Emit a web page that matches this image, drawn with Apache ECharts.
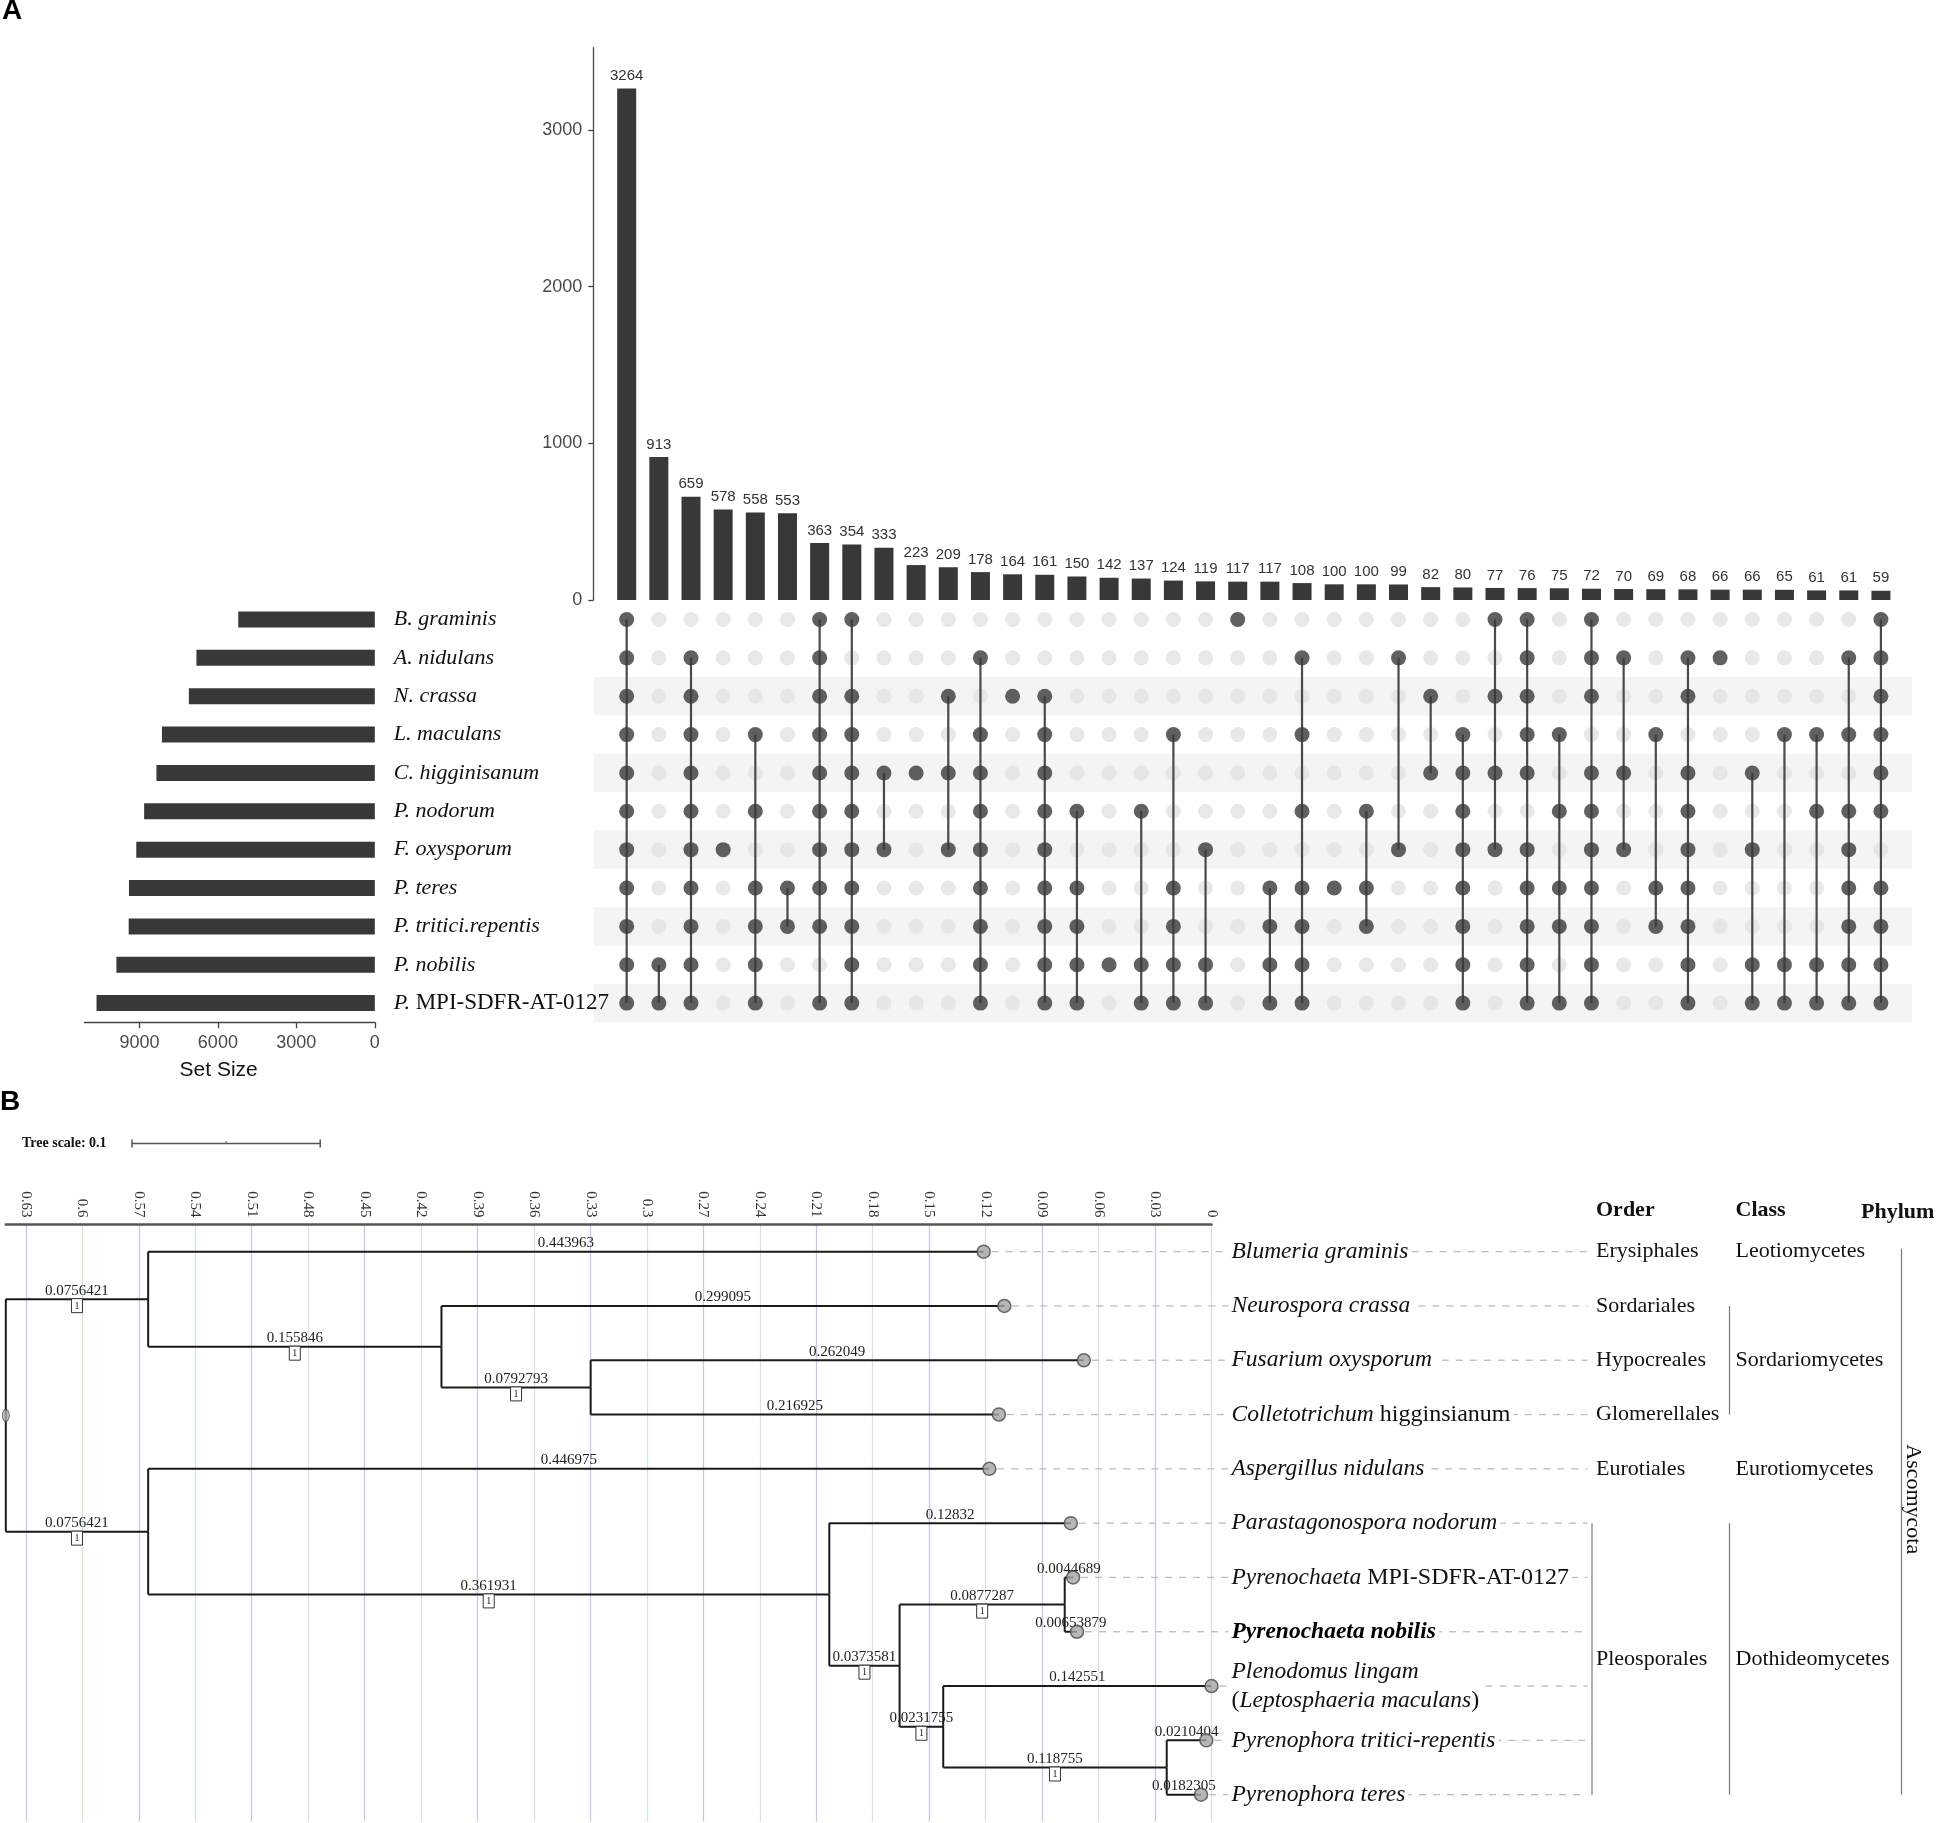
<!DOCTYPE html>
<html>
<head>
<meta charset="utf-8">
<script src="https://cdn.jsdelivr.net/npm/echarts@6/dist/echarts.min.js"></script>
<style>
html,body{margin:0;padding:0;background:#fff;}
#chart{width:1936px;height:1823px;}
</style>
</head>
<body>
<div id="chart"></div>
<script>
// ================= Panel A data =================
const setNames = ['B. graminis','A. nidulans','N. crassa','L. maculans','C. higginisanum','P. nodorum','F. oxysporum','P. teres','P. tritici.repentis','P. nobilis','P. MPI-SDFR-AT-0127'];
const setSizes = [5220,6820,7110,8140,8350,8820,9120,9400,9410,9880,10640];
const setSizeTicks = [0,3000,6000,9000];

const intersectionSizes = [3264,913,659,578,558,553,363,354,333,223,209,178,164,161,150,142,137,124,119,117,117,108,100,100,99,82,80,77,76,75,72,70,69,68,66,66,65,61,61,59];
const intersectionTicks = [0,1000,2000,3000];
// set indexes (rows of setNames) that form each intersection column
const intersectionMembers = [
  [0,1,2,3,4,5,6,7,8,9,10],
  [9,10],
  [1,2,3,4,5,6,7,8,9,10],
  [6],
  [3,5,7,8,9,10],
  [7,8],
  [0,1,2,3,4,5,6,7,8,10],
  [0,2,3,4,5,6,7,8,9,10],
  [4,6],
  [4],
  [2,4,6],
  [1,3,4,5,6,7,8,9,10],
  [2],
  [2,3,4,5,6,7,8,9,10],
  [5,7,8,9,10],
  [9],
  [5,9,10],
  [3,7,8,9,10],
  [6,9,10],
  [0],
  [7,8,9,10],
  [1,3,5,7,8,9,10],
  [7],
  [5,7,8],
  [1,6],
  [2,4],
  [3,4,5,6,7,8,9,10],
  [0,2,4,6],
  [0,1,2,3,4,6,7,8,9,10],
  [3,5,7,8,10],
  [0,1,2,4,5,6,7,8,9,10],
  [1,4,6],
  [3,7,8],
  [1,2,4,5,6,7,8,9,10],
  [1],
  [4,6,9,10],
  [3,9,10],
  [3,5,9,10],
  [1,3,5,6,7,8,9,10],
  [0,1,2,3,4,5,7,8,9,10]
];
const shadedRows = [2,4,6,8,10];

// ================= Panel B data =================
const treeNode = ['root','n1','Blumeria graminis','n2','Neurospora crassa','n3','Fusarium oxysporum','Colletotrichum higginsianum','n4','Aspergillus nidulans','n5','Parastagonospora nodorum','n6','n7','Pyrenochaeta MPI-SDFR-AT-0127','Pyrenochaeta nobilis','n8','Plenodomus lingam (Leptosphaeria maculans)','n9','Pyrenophora tritici-repentis','Pyrenophora teres'];
const treeParent = [-1,0,1,1,3,3,5,5,0,8,8,10,10,12,13,13,12,16,16,18,18];
const branchLength = [0,0.0756421,0.443963,0.155846,0.299095,0.0792793,0.262049,0.216925,0.0756421,0.446975,0.361931,0.12832,0.0373581,0.0877287,0.0044689,0.00653879,0.0231755,0.142551,0.118755,0.0210404,0.0182305];
const bootstrap = [null,1,null,1,null,1,null,null,1,null,1,null,1,1,null,null,1,null,1,null,null];
const treeTickInterval = 0.03;
const treeScaleLength = 0.1;

const orderLabels = ['Erysiphales','Sordariales','Hypocreales','Glomerellales','Eurotiales','Pleosporales'];
const orderSpans  = [[0,0],[1,1],[2,2],[3,3],[4,4],[5,10]];
const classLabels = ['Leotiomycetes','Sordariomycetes','Eurotiomycetes','Dothideomycetes'];
const classSpans  = [[0,0],[1,3],[4,4],[5,10]];
const phylumLabels = ['Ascomycota'];
const phylumSpans  = [[0,10]];

const tipMarkup = {
  'Blumeria graminis': '{i|Blumeria graminis}',
  'Neurospora crassa': '{i|Neurospora crassa}',
  'Fusarium oxysporum': '{i|Fusarium oxysporum}',
  'Colletotrichum higginsianum': '{i|Colletotrichum}{n| higginsianum}',
  'Aspergillus nidulans': '{i|Aspergillus nidulans}',
  'Parastagonospora nodorum': '{i|Parastagonospora nodorum}',
  'Pyrenochaeta MPI-SDFR-AT-0127': '{i|Pyrenochaeta}{n| MPI-SDFR-AT-0127}',
  'Pyrenochaeta nobilis': '{b|Pyrenochaeta nobilis}',
  'Plenodomus lingam (Leptosphaeria maculans)': '{i|Plenodomus lingam}\n{n|(}{i|Leptosphaeria maculans}{n|)}',
  'Pyrenophora tritici-repentis': '{i|Pyrenophora tritici-repentis}',
  'Pyrenophora teres': '{i|Pyrenophora teres}'
};

// ================= derived =================
const colCats = intersectionSizes.map((_, i) => String(i));
const lightDots = [], darkDots = [], connectors = [];
intersectionMembers.forEach((m, c) => {
  for (let r = 0; r < setNames.length; r++) {
    if (m.indexOf(r) >= 0) darkDots.push([c, r]); else lightDots.push([c, r]);
  }
  if (m.length > 1) connectors.push([c, Math.min(...m), Math.max(...m)]);
});

const nNodes = treeNode.length;
const childrenOf = treeNode.map(() => []);
treeParent.forEach((p, i) => { if (p >= 0) childrenOf[p].push(i); });
const depth = new Array(nNodes).fill(0);
for (let i = 1; i < nNodes; i++) depth[i] = depth[treeParent[i]] + branchLength[i];
const rowOf = new Array(nNodes).fill(0);
const tipIdx = [];
for (let i = 0; i < nNodes; i++) if (!childrenOf[i].length) { rowOf[i] = tipIdx.length; tipIdx.push(i); }
for (let i = nNodes - 1; i >= 0; i--) if (childrenOf[i].length) {
  const c = childrenOf[i]; rowOf[i] = (rowOf[c[0]] + rowOf[c[c.length - 1]]) / 2;
}
const maxDepth = Math.max(...tipIdx.map(i => depth[i]));
const hgt = depth.map(d => maxDepth - d);
const edgeData = [];
for (let i = 1; i < nNodes; i++) edgeData.push([hgt[treeParent[i]], hgt[i], rowOf[i], rowOf[treeParent[i]], i]);
const tipData = tipIdx.map(i => [hgt[i], rowOf[i], i]);

const annItems = [];
orderLabels.forEach((t, k) => annItems.push({col: 'order', text: t, span: orderSpans[k]}));
classLabels.forEach((t, k) => annItems.push({col: 'class', text: t, span: classSpans[k]}));
phylumLabels.forEach((t, k) => annItems.push({col: 'phylum', text: t, span: phylumSpans[k]}));

// ================= styling =================
const SANS = 'Liberation Sans, Arial, sans-serif';
const SERIF = 'Liberation Serif, Times New Roman, serif';
const DARK = '#383838';
const plain = v => String(v);

const chart = echarts.init(document.getElementById('chart'), null, {renderer: 'canvas', width: 1936, height: 1823});

const option = {
  animation: false,
  backgroundColor: '#fff',
  grid: [
    {left: 610.6, top: 47.7, width: 1286.4, height: 552.3, outerBoundsMode: 'none'},
    {left: 610.6, top: 600.3, width: 1286.4, height: 422, outerBoundsMode: 'none'},
    {left: 84.5, top: 600.3, width: 290.3, height: 422, outerBoundsMode: 'none'},
    {left: 5.8, top: 1224.5, width: 1205.7, height: 597.3, outerBoundsMode: 'none'}
  ],
  xAxis: [
    {gridIndex: 0, type: 'category', data: colCats, show: false},
    {gridIndex: 1, type: 'category', data: colCats, show: false},
    {gridIndex: 2, type: 'value', inverse: true, min: 0, max: 11100,
      axisLine: {show: true, onZero: false, lineStyle: {color: '#444', width: 1.3}},
      axisTick: {show: true, length: 6, customValues: setSizeTicks, lineStyle: {color: '#444', width: 1.3}},
      axisLabel: {customValues: setSizeTicks, formatter: plain, fontFamily: SANS, fontSize: 18, color: '#4a4a4a', margin: 12},
      splitLine: {show: false},
      name: 'Set Size', nameLocation: 'middle', nameGap: 37,
      nameTextStyle: {fontFamily: SANS, fontSize: 21, color: '#111', padding: [0, 22, 0, 0]}},
    {gridIndex: 3, type: 'value', inverse: true, position: 'top', min: 0, max: maxDepth, interval: treeTickInterval,
      axisLine: {show: true, onZero: false, lineStyle: {color: '#555', width: 2.5}},
      axisTick: {show: false},
      axisLabel: {rotate: 90, showMaxLabel: false, formatter: plain, fontFamily: SERIF, fontSize: 15, color: '#333', margin: 7},
      splitLine: {show: true, showMaxLine: false, lineStyle: {color: ['#cfe9cf', '#c6c6ea'], width: 1.2}}}
  ],
  yAxis: [
    {gridIndex: 0, type: 'value', min: 0, max: 3525, offset: 17.3,
      axisLine: {show: true, onZero: false, lineStyle: {color: '#444', width: 1.3}},
      axisTick: {show: true, length: 5, customValues: intersectionTicks, lineStyle: {color: '#444', width: 1.3}},
      axisLabel: {customValues: intersectionTicks, formatter: plain, fontFamily: SANS, fontSize: 18, color: '#4a4a4a', margin: 11},
      splitLine: {show: false}},
    {gridIndex: 1, type: 'category', data: setNames, inverse: true, show: false},
    {gridIndex: 2, type: 'category', data: setNames, inverse: true, position: 'right',
      axisLine: {show: false}, axisTick: {show: false},
      axisLabel: {
        margin: 19, align: 'left', fontFamily: SERIF, fontSize: 22, color: '#111',
        formatter: function (v) {
          const sp = v.indexOf(' ');
          const genus = v.slice(0, sp), rest = v.slice(sp + 1);
          if (/^[A-Z0-9-]+$/.test(rest)) return '{i|' + genus + '}{n| ' + rest + '}';
          return '{i|' + v + '}';
        },
        rich: {
          i: {fontFamily: SERIF, fontSize: 22, fontStyle: 'italic', color: '#111'},
          n: {fontFamily: SERIF, fontSize: 23, color: '#111'}
        }
      }},
    {gridIndex: 3, type: 'value', inverse: true, min: -0.5, max: 10.5, show: false}
  ],
  series: [
    {type: 'bar', xAxisIndex: 0, yAxisIndex: 0, data: intersectionSizes, barWidth: 19,
      itemStyle: {color: DARK},
      label: {show: true, position: 'top', distance: 5, fontFamily: SANS, fontSize: 15, color: '#333'}},
    {type: 'custom', xAxisIndex: 1, yAxisIndex: 1, silent: true, z: 0,
      data: shadedRows.map(r => [0, r]),
      renderItem: function (params, api) {
        const cs = params.coordSys;
        const y = api.coord([0, api.value(1)])[1];
        const h = api.size([0, 1])[1];
        return {type: 'rect', shape: {x: cs.x - 16.6, y: y - h / 2, width: cs.width + 31.6, height: h},
          style: {fill: '#f4f4f4'}};
      }},
    {type: 'scatter', xAxisIndex: 1, yAxisIndex: 1, data: lightDots, symbolSize: 15, z: 2,
      itemStyle: {color: '#e2e2e2'}, silent: true},
    {type: 'custom', xAxisIndex: 1, yAxisIndex: 1, z: 3, silent: true, data: connectors,
      renderItem: function (params, api) {
        const p1 = api.coord([api.value(0), api.value(1)]);
        const p2 = api.coord([api.value(0), api.value(2)]);
        return {type: 'line', shape: {x1: p1[0], y1: p1[1], x2: p2[0], y2: p2[1]},
          style: {stroke: '#4a4a4a', lineWidth: 2.2}};
      }},
    {type: 'scatter', xAxisIndex: 1, yAxisIndex: 1, data: darkDots, symbolSize: 15, z: 4,
      itemStyle: {color: DARK}, silent: true},
    {type: 'bar', xAxisIndex: 2, yAxisIndex: 2, data: setSizes, barWidth: 16,
      itemStyle: {color: DARK}},
    // tree branches
    {type: 'custom', xAxisIndex: 3, yAxisIndex: 3, z: 3, silent: true, clip: false, data: edgeData,
      renderItem: function (params, api) {
        const xp = api.value(0), xc = api.value(1), yc = api.value(2), yp = api.value(3), i = api.value(4);
        const P = api.coord([xp, yp]), PC = api.coord([xp, yc]), C = api.coord([xc, yc]);
        const mid = (PC[0] + C[0]) / 2;
        const ch = [
          {type: 'line', shape: {x1: P[0], y1: P[1], x2: PC[0], y2: PC[1]}, style: {stroke: '#1a1a1a', lineWidth: 2}},
          {type: 'line', shape: {x1: PC[0], y1: PC[1], x2: C[0], y2: C[1]}, style: {stroke: '#1a1a1a', lineWidth: 2}},
          {type: 'text', z2: 5, style: {text: String(branchLength[i]), x: mid, y: C[1] - 1, align: 'center', verticalAlign: 'bottom',
            fontFamily: SERIF, fontSize: 15, fill: '#222'}}
        ];
        if (bootstrap[i] != null) {
          ch.push({type: 'rect', z2: 6, shape: {x: mid - 5.5, y: C[1] - 0.5, width: 11, height: 14},
            style: {fill: '#fff', stroke: '#333', lineWidth: 1}});
          ch.push({type: 'text', z2: 7, style: {text: String(bootstrap[i]), x: mid, y: C[1] + 6.8, align: 'center', verticalAlign: 'middle',
            fontFamily: SERIF, fontSize: 10, fill: '#222'}});
        }
        return {type: 'group', children: ch};
      }},
    // root marker
    {type: 'scatter', xAxisIndex: 3, yAxisIndex: 3, z: 4, silent: true, clip: false,
      data: [[hgt[0], rowOf[0]]], symbol: 'circle', symbolSize: [7, 12],
      itemStyle: {color: '#aaa', borderColor: '#444', borderWidth: 1}},
    // tip labels + leaders
    {type: 'custom', xAxisIndex: 3, yAxisIndex: 3, z: 2, silent: true, clip: false, data: tipData,
      renderItem: function (params, api) {
        const cs = params.coordSys;
        const R = cs.x + cs.width;
        const p = api.coord([api.value(0), api.value(1)]);
        const name = treeNode[api.value(2)];
        return {type: 'group', children: [
          {type: 'line', shape: {x1: p[0] + 8, y1: p[1], x2: R + 376, y2: p[1]},
            style: {stroke: '#bdbdbd', lineWidth: 1.3, lineDash: [7, 7]}},
          {type: 'text', z2: 5, style: {
            text: tipMarkup[name], x: R + 17, y: p[1], align: 'left', verticalAlign: 'middle',
            fontFamily: SERIF, fontSize: 23.5, fill: '#111', backgroundColor: '#fff', padding: [0, 3], lineHeight: 29,
            rich: {
              i: {fontFamily: SERIF, fontSize: 23.5, fontStyle: 'italic', fill: '#111', lineHeight: 29},
              n: {fontFamily: SERIF, fontSize: 24, fill: '#111', lineHeight: 29},
              b: {fontFamily: SERIF, fontSize: 23.5, fontStyle: 'italic', fontWeight: 'bold', fill: '#000', lineHeight: 29}
            }}}
        ]};
      }},
    // tip circles
    {type: 'scatter', xAxisIndex: 3, yAxisIndex: 3, z: 5, silent: true, clip: false,
      data: tipData.map(d => [d[0], d[1]]), symbolSize: 13,
      itemStyle: {color: '#a4a4a4', borderColor: '#4a4a4a', borderWidth: 1.5}},
    // taxonomy columns
    {type: 'custom', xAxisIndex: 3, yAxisIndex: 3, z: 4, silent: true, clip: false,
      data: annItems.map((a, k) => [0, (a.span[0] + a.span[1]) / 2, k]),
      renderItem: function (params, api) {
        const cs = params.coordSys;
        const R = cs.x + cs.width;
        const a = annItems[api.value(2)];
        const ys = api.coord([0, a.span[0]])[1], ye = api.coord([0, a.span[1]])[1];
        const ch = [];
        const font = {fontFamily: SERIF, fontSize: 22, fill: '#111'};
        if (a.col === 'order') {
          if (a.span[1] > a.span[0]) ch.push({type: 'line', shape: {x1: R + 380.5, y1: ys, x2: R + 380.5, y2: ye}, style: {stroke: '#777', lineWidth: 1.2}});
          ch.push({type: 'text', style: Object.assign({text: a.text, x: R + 384.5, y: (ys + ye) / 2, align: 'left', verticalAlign: 'middle'}, font)});
        } else if (a.col === 'class') {
          if (a.span[1] > a.span[0]) ch.push({type: 'line', shape: {x1: R + 518, y1: ys, x2: R + 518, y2: ye}, style: {stroke: '#777', lineWidth: 1.2}});
          ch.push({type: 'text', style: Object.assign({text: a.text, x: R + 524, y: (ys + ye) / 2, align: 'left', verticalAlign: 'middle'}, font)});
        } else {
          ch.push({type: 'line', shape: {x1: R + 690, y1: ys - 3, x2: R + 690, y2: ye}, style: {stroke: '#777', lineWidth: 1.2}});
          const yc = api.coord([0, (a.span[0] + a.span[1]) / 2 - 0.44])[1];
          ch.push({type: 'text', x: R + 701.5, y: yc, rotation: -Math.PI / 2,
            style: Object.assign({text: a.text, x: 0, y: 0, align: 'center', verticalAlign: 'middle'}, font)});
        }
        return {type: 'group', children: ch};
      }}
  ]
};
chart.setOption(option);

const x0 = chart.convertToPixel({xAxisIndex: 3}, 0);
const x1 = chart.convertToPixel({xAxisIndex: 3}, treeScaleLength);
const scaleLen = Math.abs(x0 - x1);
const gridR = x0;
const sbX = 132, sbY = 1143.5;
chart.setOption({
  graphic: [
    {type: 'text', left: 2, top: -3, style: {text: 'A', font: 'bold 28px ' + SANS, fill: '#000'}},
    {type: 'text', left: 0, top: 1088, style: {text: 'B', font: 'bold 28px ' + SANS, fill: '#000'}},
    {type: 'text', x: 22, y: sbY, style: {text: 'Tree scale: 0.1', font: 'bold 14px ' + SERIF, fill: '#111', verticalAlign: 'middle'}},
    {type: 'line', shape: {x1: sbX, y1: sbY, x2: sbX + scaleLen, y2: sbY}, style: {stroke: '#555', lineWidth: 1.5}},
    {type: 'line', shape: {x1: sbX, y1: sbY - 4, x2: sbX, y2: sbY + 4}, style: {stroke: '#555', lineWidth: 1.5}},
    {type: 'line', shape: {x1: sbX + scaleLen, y1: sbY - 4, x2: sbX + scaleLen, y2: sbY + 4}, style: {stroke: '#555', lineWidth: 1.5}},
    {type: 'line', shape: {x1: sbX + scaleLen / 2, y1: sbY - 2.5, x2: sbX + scaleLen / 2, y2: sbY}, style: {stroke: '#555', lineWidth: 1}},
    {type: 'text', x: gridR + 384.5, y: 1210, style: {text: 'Order', font: 'bold 22px ' + SERIF, fill: '#111', verticalAlign: 'middle'}},
    {type: 'text', x: gridR + 524, y: 1210, style: {text: 'Class', font: 'bold 22px ' + SERIF, fill: '#111', verticalAlign: 'middle'}},
    {type: 'text', x: gridR + 649.5, y: 1212, style: {text: 'Phylum', font: 'bold 22px ' + SERIF, fill: '#111', verticalAlign: 'middle'}}
  ]
});
</script>
</body>
</html>
